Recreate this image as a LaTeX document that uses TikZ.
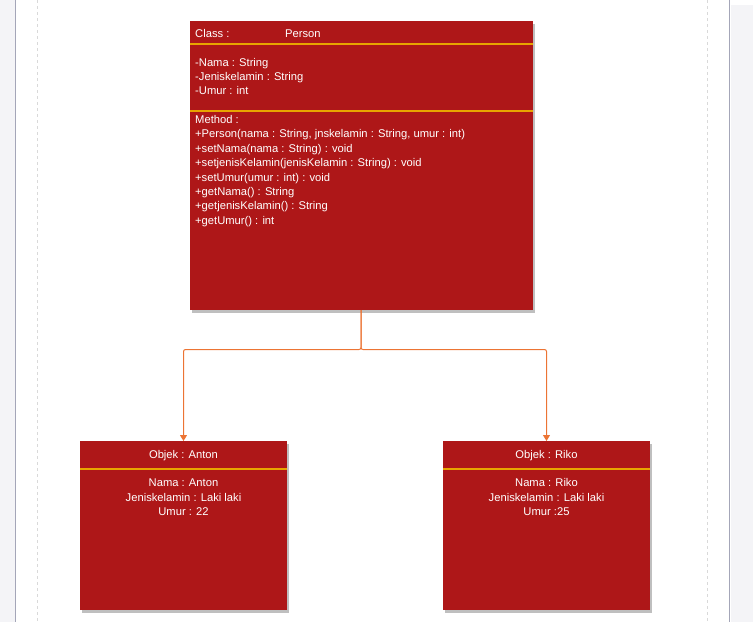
\documentclass[tikz,border=0pt]{standalone}
\usepackage{fontspec}
\setmainfont{Liberation Sans}
\usetikzlibrary{shadows,arrows.meta}
\definecolor{boxred}{HTML}{AE1718}
\definecolor{divider}{HTML}{E8A400}
\definecolor{conn}{HTML}{EC7434}
\definecolor{pagegray}{HTML}{F4F4F7}
\definecolor{edge}{HTML}{A4A6B8}
\tikzset{
  umlbox/.style={fill=boxred, draw=none, drop shadow={shadow xshift=1.5pt, shadow yshift=-2.5pt, opacity=0.5}},
  divline/.style={draw=divider, line width=2pt},
  txt/.style={text=white, font=\fontsize{11.2}{13}\selectfont, inner sep=0pt},
  lefttxt/.style={txt, anchor=base west},
  ctrtxt/.style={txt, anchor=base},
  connector/.style={draw=conn, line width=1pt, rounded corners=2pt, -{Triangle[length=6pt,width=7pt]}}
}
\begin{document}
\begin{tikzpicture}[x=1pt,y=-1pt]
\useasboundingbox (0,0) rectangle (753,622);
% page frame
\fill[pagegray] (0,0) rectangle (15,622);
\fill[pagegray] (731,5) rectangle (753,622);
\draw[edge, line width=1.3pt] (15.5,0) -- (15.5,622);
\draw[edge, line width=1.3pt] (729.5,0) -- (729.5,622);
\draw[gray!30, dashed, line width=0.6pt] (37.5,0) -- (37.5,622);
\draw[gray!30, dashed, line width=0.6pt] (707.5,0) -- (707.5,622);

% class box
\path[umlbox] (190,21) rectangle (533,310);
\coordinate (cls-bottom) at (361,310);
\draw[divline] (190,44) -- (533,44);
\draw[divline] (190,111) -- (533,111);
\node[lefttxt] (c0) at (195,37.5) {Class :};
\node[lefttxt] (c1) at (285,37.5) {Person};
\node[lefttxt] (a1) at (195,66) {-Nama : String};
\node[lefttxt] (a2) at (195,80.3) {-Jeniskelamin : String};
\node[lefttxt] (a3) at (195,94.6) {-Umur : int};
\node[lefttxt] (m0) at (195,123.5) {Method :};
\node[lefttxt] (m1) at (195,137.9) {+Person(nama : String, jnskelamin : String, umur : int)};
\node[lefttxt] (m2) at (195,152.3) {+setNama(nama : String) : void};
\node[lefttxt] (m3) at (195,166.7) {+setjenisKelamin(jenisKelamin : String) : void};
\node[lefttxt] (m4) at (195,181.1) {+setUmur(umur : int) : void};
\node[lefttxt] (m5) at (195,195.5) {+getNama() : String};
\node[lefttxt] (m6) at (195,209.9) {+getjenisKelamin() : String};
\node[lefttxt] (m7) at (195,224.3) {+getUmur() : int};

% Anton box
\path[umlbox] (80,441) rectangle (287,610);
\coordinate (anton-top) at (183.5,441);
\draw[divline] (80,469) -- (287,469);
\node[ctrtxt] (at) at (183.5,458) {Objek : Anton};
\node[ctrtxt] (a1n) at (183.5,486.5) {Nama : Anton};
\node[ctrtxt] (a2n) at (183.5,501) {Jeniskelamin : Laki laki};
\node[ctrtxt] (a3n) at (183.5,515.5) {Umur : 22};

% Riko box
\path[umlbox] (443,441) rectangle (650,610);
\coordinate (riko-top) at (546.5,441);
\draw[divline] (443,469) -- (650,469);
\node[ctrtxt] (rt) at (546.5,458) {Objek : Riko};
\node[ctrtxt] (r1n) at (546.5,486.5) {Nama : Riko};
\node[ctrtxt] (r2n) at (546.5,501) {Jeniskelamin : Laki laki};
\node[ctrtxt] (r3n) at (546.5,515.5) {Umur :25};

% connectors
\coordinate (split) at (361,349.5);
\draw[connector] (cls-bottom) -- (split) -| (anton-top);
\draw[connector] (cls-bottom) -- (split) -| (riko-top);
\end{tikzpicture}
\end{document}
